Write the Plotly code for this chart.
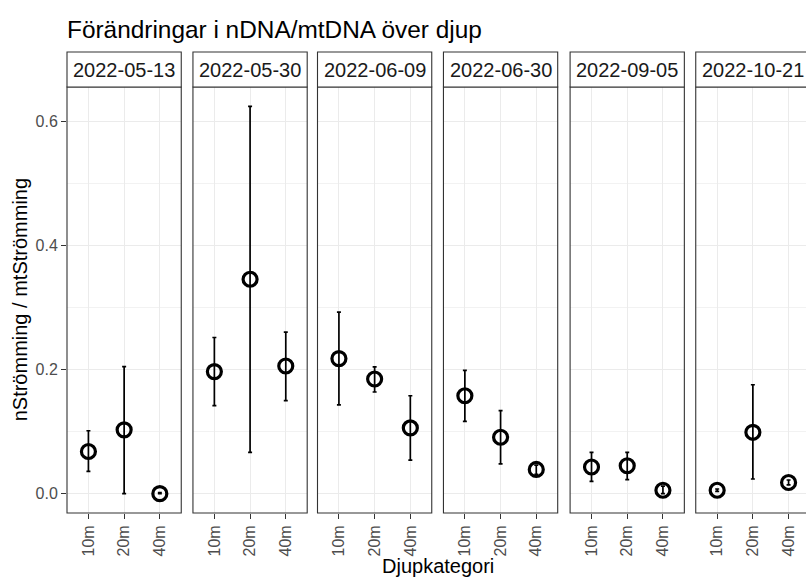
import plotly.graph_objects as go

# ---------------- data ----------------
dates = ["2022-05-13", "2022-05-30", "2022-06-09", "2022-06-30", "2022-09-05", "2022-10-21"]
depths = ["10m", "20m", "40m"]

mean_0513 = [0.068, 0.103, 0.000]
mean_0530 = [0.197, 0.346, 0.206]
mean_0609 = [0.218, 0.185, 0.106]
mean_0630 = [0.158, 0.091, 0.039]
mean_0905 = [0.043, 0.045, 0.0055]
mean_1021 = [0.0055, 0.099, 0.018]

upper_0513 = [0.1015, 0.205, 0.0015]
upper_0530 = [0.252, 0.625, 0.2606]
upper_0609 = [0.293, 0.2047, 0.158]
upper_0630 = [0.199, 0.134, 0.046]
upper_0905 = [0.0666, 0.0666, 0.012]
upper_1021 = [0.0075, 0.1757, 0.022]

lower_0513 = [0.036, 0.000, 0.000]
lower_0530 = [0.142, 0.0666, 0.150]
lower_0609 = [0.1434, 0.164, 0.054]
lower_0630 = [0.1165, 0.048, 0.031]
lower_0905 = [0.0199, 0.0226, 0.000]
lower_1021 = [0.0035, 0.0236, 0.014]

means = [mean_0513, mean_0530, mean_0609, mean_0630, mean_0905, mean_1021]
uppers = [upper_0513, upper_0530, upper_0609, upper_0630, upper_0905, upper_1021]
lowers = [lower_0513, lower_0530, lower_0609, lower_0630, lower_0905, lower_1021]

y_ticks = [0.0, 0.2, 0.4, 0.6]
y_tick_text = ["0.0", "0.2", "0.4", "0.6"]

title_text = "Förändringar i nDNA/mtDNA över djup"
x_title = "Djupkategori"
y_title = "nStrömming / mtStrömming"

# ---------------- layout geometry ----------------
W, H = 806, 577
plot_left, plot_right = 66.7, 806.0
plot_top, plot_bottom = 86.7, 513.0
plot_w = plot_right - plot_left
plot_h = plot_bottom - plot_top
panel_starts = [66.7, 192.7, 317.3, 443.3, 570.0, 695.7]
panel_w = 114.3
strip_h = 35.0

FONT = "Liberation Sans, Arial, sans-serif"
BORDER = "#333333"
GRID = "#EBEBEB"

fig = go.Figure()
layout = dict(
    width=W, height=H,
    margin=dict(l=plot_left, r=W - plot_right, t=plot_top, b=H - plot_bottom, pad=0),
    paper_bgcolor="white", plot_bgcolor="white",
    showlegend=False,
    font=dict(family=FONT, color="#4D4D4D", size=16),
    title=dict(text=title_text, x=0, xref="paper", xanchor="left",
               y=1 - 29 / H, yref="container", yanchor="middle",
               font=dict(family=FONT, size=24.4, color="black")),
)

shapes = []
annotations = []
yr = [-0.03125, 0.65625]

for i, d in enumerate(dates):
    n = "" if i == 0 else str(i + 1)
    xa = "x" + n
    ya = "y" + n
    x0 = panel_starts[i]
    x1 = x0 + panel_w
    frac = min(1.0, (plot_right - x0) / panel_w)
    d0 = (x0 - plot_left) / plot_w
    d1 = min(1.0, (x1 - plot_left) / plot_w)
    m = means[i]
    up = [u - v for u, v in zip(uppers[i], m)]
    lo = [v - l for v, l in zip(m, lowers[i])]
    fig.add_trace(go.Scatter(
        x=depths, y=m, mode="markers", xaxis=xa, yaxis=ya,
        marker=dict(symbol="circle-open", size=14, color="black",
                    line=dict(width=3.2, color="black")),
        error_y=dict(type="data", array=up, arrayminus=lo, symmetric=False,
                     color="black", thickness=1.7, width=2),
        hoverinfo="skip",
    ))
    layout["xaxis" + n] = dict(
        domain=[d0, d1], anchor=ya, type="category",
        categoryorder="array", categoryarray=depths,
        range=[-0.6, -0.6 + 3.2 * frac],
        showgrid=True, gridcolor=GRID, gridwidth=1.1,
        zeroline=False, showline=False,
        ticks="outside", ticklen=5, tickwidth=1, tickcolor=BORDER,
        tickangle=-90, ticklabelstandoff=0,
        tickfont=dict(family=FONT, size=16, color="#4D4D4D"),
        fixedrange=True,
    )
    ydict = dict(
        domain=[0, 1], anchor=xa, range=yr,
        tickvals=y_ticks, ticktext=y_tick_text,
        showgrid=True, gridcolor=GRID, gridwidth=1.1,
        minor=dict(dtick=0.1, tick0=0, showgrid=True, gridcolor="#F2F2F2", gridwidth=0.55),
        zeroline=False, showline=False, fixedrange=True,
    )
    if i == 0:
        ydict.update(ticks="outside", ticklen=5, tickwidth=1, tickcolor=BORDER,
                     showticklabels=True,
                     tickfont=dict(family=FONT, size=16, color="#4D4D4D"))
    else:
        ydict.update(matches="y", ticks="", showticklabels=False)
    layout["yaxis" + n] = ydict

    # panel border
    shapes.append(dict(type="rect", xref=xa + " domain", yref=ya + " domain",
                       x0=0, x1=1 / frac, y0=0, y1=1,
                       line=dict(color=BORDER, width=1.1), fillcolor="rgba(0,0,0,0)",
                       layer="above"))
    # strip
    shapes.append(dict(type="rect", xref=xa + " domain", yref=ya + " domain",
                       x0=0, x1=1 / frac, y0=1, y1=1 + strip_h / plot_h,
                       line=dict(color=BORDER, width=1.1), fillcolor="white",
                       layer="above"))
    annotations.append(dict(text=d, xref=xa + " domain", yref=ya + " domain",
                            x=0.5 / frac, y=1 + strip_h / 2 / plot_h,
                            xanchor="center", yanchor="middle", showarrow=False,
                            font=dict(family=FONT, size=20, color="#1A1A1A")))

annotations.append(dict(text=x_title, xref="paper", yref="paper",
                        x=((plot_left + panel_starts[-1] + panel_w) / 2 - plot_left) / plot_w,
                        y=(plot_bottom - 566) / plot_h,
                        xanchor="center", yanchor="middle", showarrow=False,
                        font=dict(family=FONT, size=20, color="black")))
annotations.append(dict(text=y_title, xref="paper", yref="paper",
                        x=(20 - plot_left) / plot_w, y=0.5, textangle=-90,
                        xanchor="center", yanchor="middle", showarrow=False,
                        font=dict(family=FONT, size=20, color="black")))

layout["shapes"] = shapes
layout["annotations"] = annotations
fig.update_layout(**layout)
fig.write_html("out.html", config={"displayModeBar": False},
               post_script="document.body.style.margin='0px';document.body.style.overflow='hidden';")
